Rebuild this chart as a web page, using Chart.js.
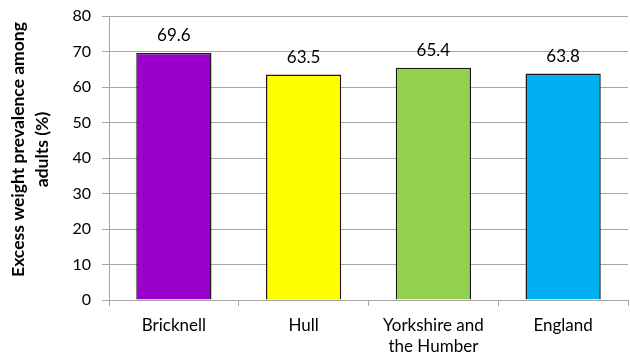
<!DOCTYPE html>
<html>
<head>
<meta charset="utf-8">
<script src="https://cdn.jsdelivr.net/npm/chart.js@4/dist/chart.umd.min.js"></script>
<style>
  html, body { margin: 0; padding: 0; background: #fff; }
  #wrap { width: 630px; height: 358px; }
</style>
</head>
<body>
<div id="wrap"><canvas id="chart"></canvas></div>
<script>
const categories = ['Bricknell', 'Hull', ['Yorkshire and', 'the Humber'], 'England'];
const prevalence = [69.6, 63.5, 65.4, 63.8];
const barColours = ['#9900CC', '#FFFF00', '#92D050', '#00B0F0'];
const yTicks = [0, 10, 20, 30, 40, 50, 60, 70, 80];

const FONT = 'Lato, "Open Sans", sans-serif';
// leading spaces nudge the rotated title up a little, like the original
const PAD = '\u00a0\u00a0\u00a0\u00a0';

// draws the value above each bar
const valueLabels = {
  id: 'valueLabels',
  afterDatasetsDraw(chart) {
    const ctx = chart.ctx;
    const meta = chart.getDatasetMeta(0);
    ctx.save();
    ctx.font = '17px ' + FONT;
    ctx.fillStyle = '#000';
    ctx.textAlign = 'center';
    ctx.textBaseline = 'alphabetic';
    meta.data.forEach((bar, i) => {
      ctx.fillText(prevalence[i].toFixed(1), bar.x, bar.y - 12);
    });
    ctx.restore();
  }
};

new Chart(document.getElementById('chart'), {
  type: 'bar',
  data: {
    labels: categories,
    datasets: [{
      data: prevalence,
      backgroundColor: barColours,
      borderColor: '#1a1a1a',
      borderWidth: 1.5,
      barPercentage: 0.58,
      categoryPercentage: 1
    }]
  },
  options: {
    responsive: true,
    maintainAspectRatio: false,
    animation: false,
    layout: { padding: { top: 16, right: 2, left: 0, bottom: 0 } },
    plugins: { legend: { display: false }, tooltip: { enabled: false } },
    scales: {
      x: {
        grid: { drawOnChartArea: false, drawTicks: true, tickLength: 6, color: '#a6a6a6', offset: true },
        border: { color: '#a6a6a6', width: 1 },
        ticks: { color: '#000', font: { family: FONT, size: 17, lineHeight: 1.25 }, padding: 9, maxRotation: 0 },
        afterFit(scale) { scale.height = 58; scale.paddingLeft = 0; scale.paddingRight = 0; }
      },
      y: {
        min: 0,
        max: 80,
        afterBuildTicks(scale) { scale.ticks = yTicks.map(v => ({ value: v })); },
        grid: { color: '#a6a6a6', tickLength: 7 },
        border: { color: '#a6a6a6', width: 1 },
        ticks: { color: '#000', font: { family: FONT, size: 16 }, padding: 11 },
        title: {
          display: true,
          text: [PAD + 'Excess weight prevalence among', PAD + 'adults (%)'],
          color: '#000',
          font: { family: FONT, size: 17.5, weight: 'bold', lineHeight: 1.37 },
          padding: { top: 6, bottom: 0 }
        },
        afterFit(scale) { scale.width = 109; scale.paddingTop = 0; scale.paddingBottom = 0; }
      }
    }
  },
  plugins: [valueLabels]
});
</script>
</body>
</html>
